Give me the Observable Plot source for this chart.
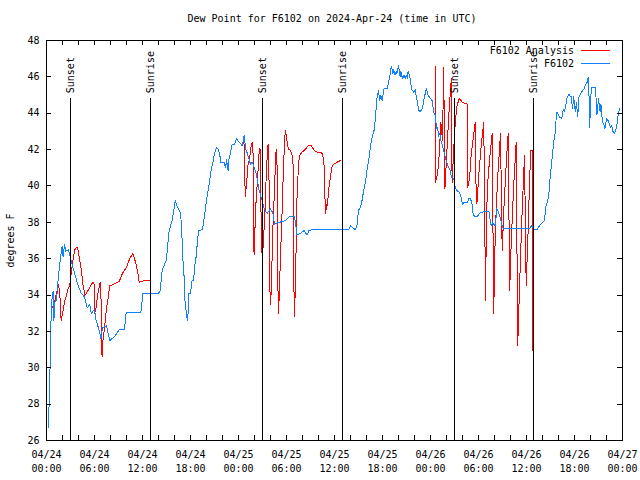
<!DOCTYPE html>
<html><head><meta charset="utf-8">
<script src="https://cdn.jsdelivr.net/npm/d3@7"></script>
<script src="https://cdn.jsdelivr.net/npm/@observablehq/plot@0.6"></script>
<style>
body{margin:0;background:#fff;}
#wrap{position:relative;width:640px;height:480px;font-family:"DejaVu Sans Mono",monospace;font-size:10px;color:#000;}
#title{position:absolute;top:13px;left:0;width:664px;text-align:center;white-space:pre;}
#legend{position:absolute;top:44px;right:30px;}
.row{display:flex;align-items:center;justify-content:flex-end;height:13px;line-height:13px;}
.sw{display:inline-block;width:29px;height:0;margin-left:7px;}
</style></head>
<body>
<div id="wrap">
<div id="chart"></div>
<div id="title"></div>
<div id="legend"></div>
</div>
<script>
const titleText = "Dew Point for F6102 on 2024-Apr-24 (time in UTC)";
const seriesNames = ["F6102 Analysis", "F6102"];
const seriesColors = ["#ff0000", "#1080ff"];
const yLabel = "degrees F";
const startDay = "2024-04-24T00:00:00Z";
const spanHours = 72;
const yTicks = [26, 28, 30, 32, 34, 36, 38, 40, 42, 44, 46, 48];

// Observed dew point (F6102), hours since start
const obsHours = [0.25,0.3,0.42,0.5,0.67,0.83,0.92,1.08,1.25,1.42,1.6,1.83,1.96,2.08,2.25,2.4,2.75,3.08,3.5,3.9,4.33,4.75,5.1,5.4,5.6,6.0,6.2,6.6,6.8,7.0,7.5,7.9,8.5,9.1,9.75,9.96,11.8,12.05,14.0,14.25,14.33,14.46,14.96,15.08,15.3,15.5,15.7,15.9,16.1,16.4,16.75,16.9,17.0,17.2,17.25,17.4,17.5,17.6,17.7,17.8,18.0,18.2,18.4,18.5,18.7,18.8,19.0,19.5,19.7,20.0,20.2,20.4,20.6,20.8,21.0,21.25,21.5,21.7,21.8,22.2,22.4,22.5,22.7,22.8,23.0,23.2,23.5,23.75,24.0,24.5,24.7,24.9,25.1,25.3,25.5,25.7,25.9,26.1,26.3,26.5,26.75,26.96,27.2,27.4,27.6,28.0,28.3,28.5,28.8,29.9,30.3,31.0,31.2,31.3,31.8,32.2,32.4,32.6,32.8,33.2,37.8,38.0,38.3,38.6,38.8,39.0,39.2,39.4,39.55,39.7,39.9,40.0,40.3,40.6,41.0,41.2,41.3,41.5,41.65,41.8,41.95,42.2,42.6,42.8,43.0,43.1,43.3,43.4,43.55,43.7,43.8,44.0,44.2,44.3,44.5,44.7,44.85,45.0,45.1,45.2,45.35,45.5,45.6,45.9,46.1,46.25,46.4,46.5,46.75,47.0,47.2,47.4,47.5,47.7,48.0,48.2,48.4,48.6,48.75,48.9,49.0,49.15,49.3,49.5,49.7,49.9,50.1,50.3,50.5,50.6,50.9,51.1,51.25,51.5,51.75,52.0,52.2,52.6,52.8,53.0,53.2,53.3,53.5,53.8,54.0,54.25,55.3,55.5,55.6,55.75,55.9,56.1,56.3,56.5,56.75,57.0,57.2,60.3,60.5,60.6,60.9,61.3,61.7,62.25,62.4,62.6,62.8,62.9,63.1,63.25,63.4,63.6,63.75,63.9,64.1,64.4,64.6,64.75,64.9,65.1,65.3,65.4,65.6,65.75,65.9,66.1,66.25,66.4,66.55,66.75,67.0,67.2,67.4,67.6,67.7,67.8,67.9,68.0,68.1,68.6,68.75,68.8,69.0,69.2,69.3,69.5,69.65,69.8,70.0,70.2,70.35,70.5,70.65,70.8,71.0,71.2,71.35,71.5,71.65];
const obsDew = [26.7,27.6,29.3,31.9,33.7,34.2,32.6,33.7,33.7,34.7,35.5,36.3,36.7,36.1,36.8,36.4,36.5,35.9,35.2,34.6,34.1,33.9,33.3,33.5,33.0,33.2,32.6,32.05,31.6,32.2,32.3,31.5,31.7,32.1,32.1,33.05,33.05,34.1,34.1,34.25,34.8,35.35,35.9,36.4,37.45,37.8,38.1,38.65,39.2,38.8,38.5,37.7,36.3,35.0,34.0,33.25,33.0,32.6,33.0,34.1,34.1,34.8,34.8,35.5,36.1,36.6,37.55,37.6,38.2,39.2,39.75,40.3,40.95,41.3,41.8,42.1,42.0,41.6,41.3,41.3,41.0,41.45,40.85,41.45,41.8,42.3,42.3,42.6,42.45,42.2,42.8,42.0,41.8,41.5,41.2,41.3,41.1,40.85,40.5,39.9,39.5,39.2,38.75,38.6,38.5,38.75,38.5,37.9,37.96,38.1,38.3,38.3,37.7,37.3,37.4,37.55,37.4,37.3,37.55,37.6,37.6,37.8,37.7,37.6,37.8,38.65,38.8,39.1,39.5,39.85,40.3,40.7,41.5,42.5,43.15,44.25,44.8,45.25,44.7,45.0,44.7,45.35,45.35,45.8,46.2,46.6,46.2,46.4,46.1,46.3,46.2,46.6,46.0,46.3,45.9,46.1,45.9,46.1,45.9,46.3,46.1,45.85,45.35,45.15,45.3,44.8,44.6,44.15,44.1,44.3,44.8,45.2,45.35,45.0,44.8,44.7,44.05,43.9,43.15,43.2,42.7,42.9,42.5,42.2,41.85,41.5,41.2,41.0,40.8,40.5,40.4,39.9,39.75,39.7,39.5,39.0,39.1,39.1,39.3,39.3,39.0,38.55,38.3,38.3,38.4,38.55,38.6,38.0,37.8,38.0,37.9,37.8,38.75,38.55,38.2,37.7,37.65,37.65,37.7,37.85,37.6,37.6,37.86,38.1,38.83,39.1,39.55,40.2,41.1,41.77,42.4,42.95,44.05,44.0,43.8,43.7,44.2,44.1,44.4,44.9,45.05,44.95,44.9,44.25,44.9,44.1,44.6,43.8,44.9,45.05,45.25,45.35,45.6,45.7,45.98,45.2,43.2,44.5,45.4,45.4,44.5,43.9,44.8,44.1,44.5,43.5,43.4,43.15,43.7,43.6,43.4,43.2,43.3,43.0,42.87,43.15,43.5,44.05,44.25];

// Analysis dew point (F6102 Analysis), hours since start; null = gap
const anHours = [0.7,1.0,1.2,1.5,1.6,1.75,1.83,2.08,2.25,2.5,2.7,2.9,3.1,3.3,3.5,3.7,3.9,4.2,4.4,4.5,4.7,4.8,5.2,5.6,5.8,5.95,6.0,6.2,6.4,6.7,6.8,6.85,6.9,6.95,7.0,7.25,7.4,7.5,7.7,7.9,9.1,9.5,9.96,10.4,10.8,11.0,11.2,11.4,11.6,12.2,13.0,
 18.0,
 24.67,24.75,24.85,25.0,25.2,25.4,25.5,25.7,25.8,25.88,25.92,25.95,26.05,26.2,26.4,26.6,26.7,26.8,26.9,26.96,27.1,27.3,27.5,27.7,27.75,27.85,27.9,27.96,28.1,28.2,28.3,28.45,28.6,28.7,28.8,28.87,28.92,28.96,29.1,29.2,29.35,29.5,29.6,29.75,29.85,30.0,30.1,30.3,30.5,30.7,30.8,30.87,30.9,30.95,31.0,31.1,31.2,31.3,31.4,31.5,31.7,31.9,32.2,32.5,32.8,33.1,33.4,33.6,34.0,34.5,34.7,34.8,34.9,35.0,35.1,35.3,35.5,35.7,35.9,36.3,36.75,
 42.0,
 48.6,48.62,48.9,49.1,49.3,49.5,49.65,49.8,50.0,50.3,50.6,50.7,50.9,51.1,51.3,51.6,52.0,52.6,52.65,52.9,53.1,53.6,53.65,53.8,54.1,54.4,54.66,54.88,55.0,55.2,55.5,55.71,55.9,56.1,56.4,56.75,56.96,57.2,57.5,57.71,57.9,58.1,58.4,58.71,58.9,59.1,59.4,59.75,59.96,60.2,60.4,60.55,60.72,60.74];
const anDew = [33.3,33.6,34.0,34.6,34.3,33.5,32.6,33.15,33.6,34.0,34.35,34.5,35.2,35.9,36.45,36.6,36.6,35.8,35.25,34.7,34.25,33.98,34.25,34.6,34.7,34.6,33.0,33.3,34.0,34.7,34.3,32.6,31.1,30.6,31.3,32.2,32.8,33.3,33.8,34.5,34.75,35.2,35.5,36.0,36.3,36.0,35.7,35.25,34.7,34.8,34.8,
 null,
 42.7,41.0,39.4,40.1,41.2,41.5,42.0,42.4,42.4,39.0,36.6,36.2,37.55,39.2,40.5,42.05,42.0,38.8,37.2,35.9,36.8,38.5,41.0,42.3,42.3,39.2,35.5,33.5,34.2,36.1,37.7,39.3,41.0,42.0,42.0,38.0,35.2,33.0,33.9,35.5,37.4,39.2,40.8,42.3,43.05,42.7,42.3,42.0,41.95,41.7,41.7,39.2,36.45,33.5,32.8,34.4,36.5,39.2,40.1,41.3,41.7,41.85,41.95,42.1,42.26,42.2,42.0,41.9,41.85,41.8,41.1,39.4,38.5,39.0,38.9,39.9,40.5,41.1,41.2,41.3,41.4,
 null,
 46.6,40.2,40.7,41.8,43.5,42.5,46.5,39.85,41.5,44.0,45.9,40.2,42.0,43.5,44.4,44.8,44.6,44.5,39.9,40.5,41.8,43.5,40.5,39.0,41.0,42.5,43.5,33.7,38.5,40.5,42.0,42.87,33.0,37.5,40.5,42.87,36.45,39.0,41.5,42.87,34.25,37.0,40.0,42.4,31.2,34.0,38.0,41.7,34.5,37.5,40.5,41.95,41.95,30.95];

// Sun events (hours since start)
const sunHours = [3.05, 13.05, 27.05, 37.05, 51.05, 60.92];
const sunLabels = ["Sunset", "Sunrise", "Sunset", "Sunrise", "Sunset", "Sunrise"];

const t0 = new Date(startDay).getTime();
const toDate = h => new Date(t0 + h * 3600e3);
const obs = obsHours.map((h, i) => ({t: toDate(h), v: obsDew[i]}));
const an = anHours.map((h, i) => ({t: toDate(h), v: anDew[i]}));
const sun = sunHours.map((h, i) => ({t: toDate(h), label: sunLabels[i]}));
const minorTicks = d3.range(0, spanHours + 1, 2).map(toDate);
const labelTicks = d3.range(0, spanHours + 1, 6).map(toDate);

const W = 640, Hh = 480, mL = 46, mR = 18, mT = 40, mB = 40;
const fw = W - mL - mR, fh = Hh - mT - mB, tk = 5;

const chart = Plot.plot({
  width: W, height: Hh,
  marginLeft: mL, marginRight: mR, marginTop: mT, marginBottom: mB,
  style: {fontFamily: "DejaVu Sans Mono, monospace", fontSize: "10px", background: "#fff", color: "#000"},
  x: {type: "utc", domain: [toDate(0), toDate(spanHours)]},
  y: {domain: [26, 48]},
  marks: [
    Plot.line(an, {x: "t", y: "v", stroke: seriesColors[0], strokeWidth: 1}),
    Plot.line(obs, {x: "t", y: "v", stroke: seriesColors[1], strokeWidth: 1}),
    Plot.ruleX(sun, {x: "t", y1: 26, y2: 44.8, stroke: "#000", strokeWidth: 1}),
    Plot.text(sun, {x: "t", y: 45.1, text: "label", rotate: -90, textAnchor: "start", lineAnchor: "middle", fill: "#000"}),
    Plot.tickY(yTicks, {y: d => d, insetRight: fw - tk, stroke: "#000"}),
    Plot.tickY(yTicks, {y: d => d, insetLeft: fw - tk, stroke: "#000"}),
    Plot.tickX(minorTicks, {x: d => d, insetTop: fh - tk, stroke: "#000"}),
    Plot.tickX(minorTicks, {x: d => d, insetBottom: fh - tk, stroke: "#000"}),
    Plot.axisY({ticks: yTicks, tickSize: 0, tickPadding: 7, label: yLabel, labelAnchor: "center", labelArrow: "none", labelOffset: 40}),
    Plot.axisX({ticks: labelTicks, tickSize: 0, tickPadding: 8, tickFormat: d3.utcFormat("%m/%d\n%H:%M"), lineHeight: 1.4, label: null}),
    Plot.frame({stroke: "#000"})
  ]
});
chart.querySelectorAll("path, line").forEach(p => p.setAttribute("shape-rendering", "crispEdges"));
document.getElementById("chart").appendChild(chart);
document.getElementById("title").textContent = titleText;
const lg = document.getElementById("legend");
seriesNames.forEach((n, i) => {
  const r = document.createElement("div"); r.className = "row";
  const s = document.createElement("span"); s.textContent = n;
  const sw = document.createElement("span"); sw.className = "sw"; sw.style.borderTop = "1px solid " + seriesColors[i];
  r.appendChild(s); r.appendChild(sw); lg.appendChild(r);
});
</script>
</body></html>
